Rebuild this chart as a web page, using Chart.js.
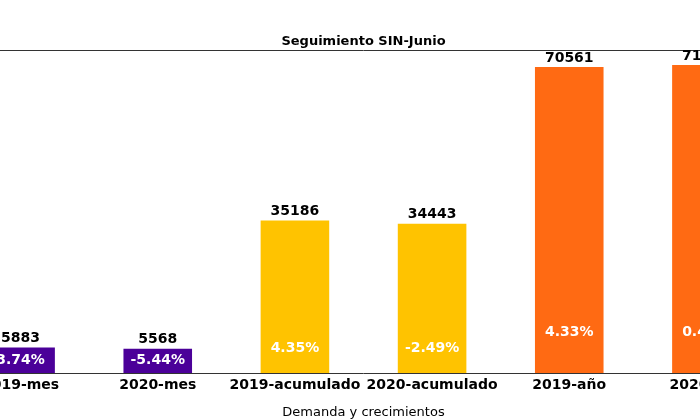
<!DOCTYPE html>
<html>
<head>
<meta charset="utf-8">
<script src="https://cdn.jsdelivr.net/npm/chart.js@4"></script>
<style>
  html, body { margin: 0; padding: 0; background: #fff; overflow: hidden; width: 700px; height: 420px; }
  #wrap { position: absolute; left: -48px; top: 0; width: 823px; height: 420px; }
</style>
</head>
<body>
<div id="wrap"><canvas id="chart" width="823" height="420"></canvas></div>
<script>
const categories = ['2019-mes', '2020-mes', '2019-acumulado', '2020-acumulado', '2019-año', '2020-año'];
const demand = [5883, 5568, 35186, 34443, 70561, 71005];
const growth = ['3.74%', '-5.44%', '4.35%', '-2.49%', '4.33%', '0.48%'];
const growthY = [2950, 2800, 5760, 5760, 9450, 9450]; // where the % label sits, in data units
const barColors = ['#4b0099', '#4b0099', '#ffc300', '#ffc300', '#ff6a13', '#ff6a13'];

const labelsPlugin = {
  id: 'labels',
  afterDatasetsDraw(chart) {
    const ctx = chart.ctx;
    const meta = chart.getDatasetMeta(0);
    const y = chart.scales.y;
    const a = chart.chartArea;
    ctx.save();
    // frame
    ctx.strokeStyle = '#333';
    ctx.lineWidth = 1;
    ctx.beginPath();
    ctx.moveTo(a.left, a.top + 0.5); ctx.lineTo(a.right, a.top + 0.5);
    ctx.moveTo(a.left, a.bottom + 0.5); ctx.lineTo(a.right, a.bottom + 0.5);
    ctx.stroke();
    // title
    ctx.fillStyle = '#000';
    ctx.font = 'bold 13px "DejaVu Sans"';
    ctx.textAlign = 'center';
    ctx.textBaseline = 'alphabetic';
    ctx.fillText('Seguimiento SIN-Junio', (a.left + a.right) / 2, a.top - 5);
    ctx.font = 'bold 14px "DejaVu Sans"';
    meta.data.forEach((bar, i) => {
      ctx.fillStyle = '#000';
      ctx.textBaseline = 'bottom';
      ctx.fillText(String(demand[i]), bar.x, bar.y - 2);
      ctx.fillStyle = '#fff';
      ctx.textBaseline = 'middle';
      ctx.fillText(growth[i], bar.x, y.getPixelForValue(growthY[i]));
    });
    ctx.restore();
  }
};

new Chart(document.getElementById('chart'), {
  type: 'bar',
  data: {
    labels: categories,
    datasets: [{ data: demand, backgroundColor: barColors, categoryPercentage: 1, barPercentage: 0.5 }]
  },
  options: {
    responsive: false,
    animation: false,
    layout: { padding: { top: 50, left: 0, right: 0, bottom: 0 } },
    plugins: { legend: { display: false }, tooltip: { enabled: false } },
    scales: {
      x: {
        grid: { display: false, drawTicks: false },
        border: { display: false },
        ticks: { color: '#000', font: { family: 'DejaVu Sans', size: 14, weight: 'bold' }, padding: 4, maxRotation: 0 },
        title: { display: true, text: 'Demanda y crecimientos', color: '#000', font: { family: 'DejaVu Sans', size: 13 }, padding: { top: 0, bottom: 0 } },
        afterFit(s) { s.height = 47; }
      },
      y: { display: false, min: 0, max: 74480 }
    }
  },
  plugins: [labelsPlugin]
});
</script>
</body>
</html>
